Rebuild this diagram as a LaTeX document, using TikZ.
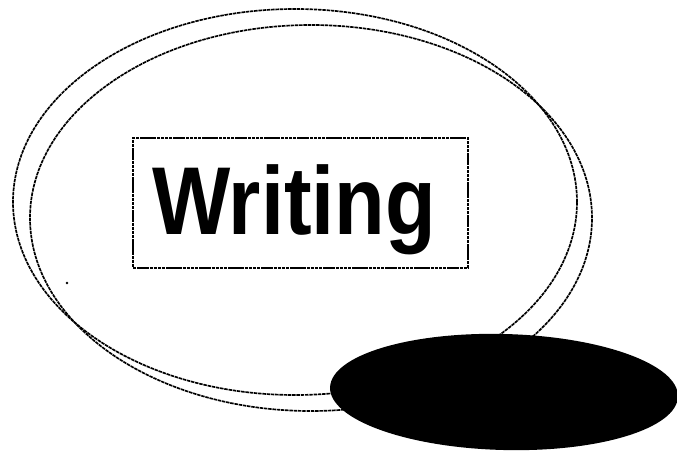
\documentclass[tikz,border=0pt]{standalone}
\usepackage{fontspec}
\newfontfamily\labelfont{Liberation Sans}
\usetikzlibrary{shapes.geometric}
\tikzset{
  ring/.style={ellipse, draw=black, line width=1.25pt, dash pattern=on 2.6pt off 0.6pt, inner sep=0pt, fill=none},
  framebox/.style={rectangle, draw=black, line width=1.2pt, dash pattern=on 2.6pt off 0.5pt, inner sep=0pt},
  blob/.style={ellipse, fill=black, draw=none, inner sep=0pt},
  title/.style={font=\labelfont\bfseries\fontsize{72.3}{80}\selectfont, inner sep=0pt, anchor=base, xscale=0.86}
}
\begin{document}
\begin{tikzpicture}[x=0.75pt, y=-0.75pt]
\useasboundingbox (0,0) rectangle (677,452);
\node[ring, minimum width=423pt, minimum height=289.5pt] (ringA) at (295,202) {};
\node[ring, minimum width=421.5pt, minimum height=289.5pt] (ringB) at (311,218) {};
\node[framebox, minimum width=251.25pt, minimum height=97.5pt] (box) at (300.5,203) {};
\node[title] (word) at (294,234) {Writing};
\node[blob, minimum width=261pt, minimum height=87pt, rotate=-1.5] (disc) at (504,392) {};
\fill (67,283) circle (1.1pt);
\end{tikzpicture}
\end{document}
